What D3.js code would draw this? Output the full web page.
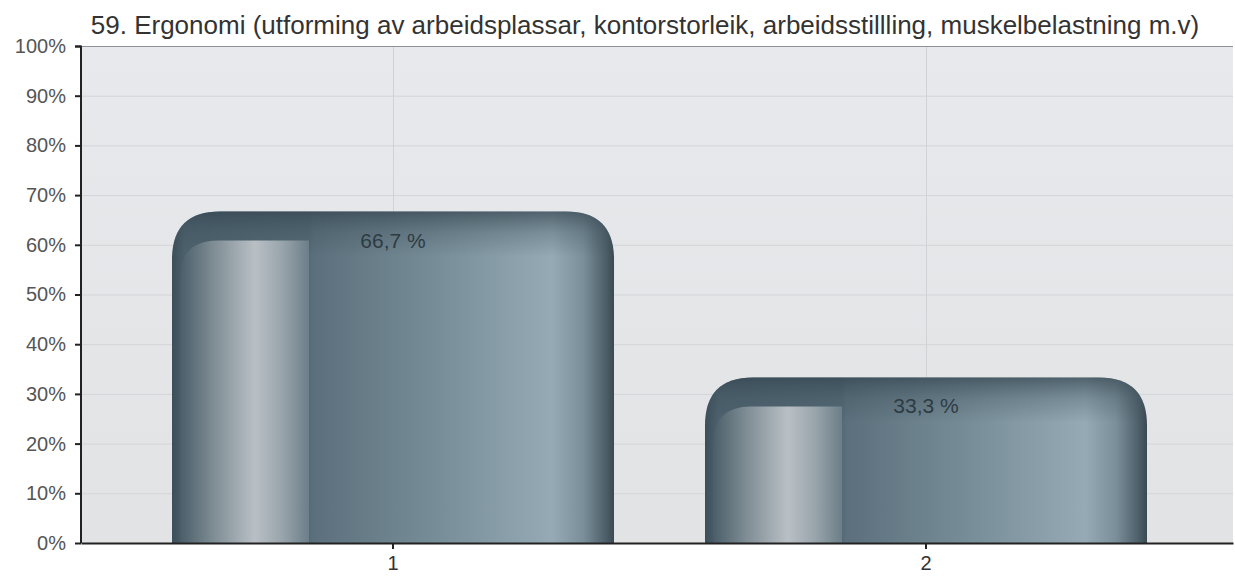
<!DOCTYPE html>
<html><head><meta charset="utf-8">
<script src="https://cdn.jsdelivr.net/npm/d3@7/dist/d3.min.js"></script>
<style>body{margin:0;background:#fff}svg{display:block}text{font-family:"Liberation Sans",Arial,sans-serif}</style>
</head><body>
<svg id="c" width="1235" height="578"></svg>
<script>
const title = "59. Ergonomi (utforming av arbeidsplassar, kontorstorleik, arbeidsstillling, muskelbelastning m.v)";
const categories = ["1", "2"];
const values = [66.7, 33.3];
const valueLabels = ["66,7 %", "33,3 %"];
const yTicks = [0, 10, 20, 30, 40, 50, 60, 70, 80, 90, 100];

const svg = d3.select("#c");
const m = {left: 81, right: 2, top: 46, bottom: 35};
const W = 1235 - m.left - m.right, H = 578 - m.top - m.bottom;
const defs = svg.append("defs");

const bodyG = defs.append("linearGradient").attr("id", "body").attr("x1", 0).attr("x2", 1).attr("y1", 0).attr("y2", 0);
[[0, "#3c4e58"], [0.03, "#4d626e"], [0.31, "#546a76"], [0.32, "#5b707c"], [0.6, "#778d98"], [0.86, "#95aab5"], [0.93, "#7b8f9a"], [0.98, "#4e606a"], [1, "#3a4a53"]]
  .forEach(([o, c]) => bodyG.append("stop").attr("offset", o).attr("stop-color", c));
const hiG = defs.append("linearGradient").attr("id", "hi").attr("x1", 0).attr("x2", 1).attr("y1", 0).attr("y2", 0);
[[0, "#4a5e69"], [0.25, "#7d8b93"], [0.58, "#b9c0c5"], [0.8, "#97a3aa"], [1, "#6c7e88"]]
  .forEach(([o, c]) => hiG.append("stop").attr("offset", o).attr("stop-color", c));
const topG = defs.append("linearGradient").attr("id", "topsh").attr("x1", 0).attr("x2", 0).attr("y1", 0).attr("y2", 1);
[[0, "#33444e", 0.7], [0.35, "#3c4e58", 0.3], [0.75, "#3c4e58", 0], [1, "#3c4e58", 0]]
  .forEach(([o, c, a]) => topG.append("stop").attr("offset", o).attr("stop-color", c).attr("stop-opacity", a));
const bgG = defs.append("linearGradient").attr("id", "bg").attr("x1", 0).attr("x2", 0).attr("y1", 0).attr("y2", 1);
[[0, "#e7e9ec"], [1, "#e2e3e5"]].forEach(([o, c]) => bgG.append("stop").attr("offset", o).attr("stop-color", c));

const g = svg.append("g").attr("transform", `translate(${m.left},${m.top})`);
const y = d3.scaleLinear().domain([0, 100]).range([H, 0]);
const x = d3.scaleBand().domain(categories).range([0, W]).paddingInner(0.2).paddingOuter(0.1807).align(0.513);
const bw = 442;

g.append("rect").attr("width", W).attr("height", H).attr("fill", "url(#bg)");
g.selectAll(".hg").data(yTicks).join("line").attr("x1", 0).attr("x2", W)
  .attr("y1", d => y(d) + 0.5).attr("y2", d => y(d) + 0.5).attr("stroke", "#d2d5d8");
g.selectAll(".vg").data(categories).join("line")
  .attr("x1", d => x(d) + x.bandwidth() / 2 + 0.5).attr("x2", d => x(d) + x.bandwidth() / 2 + 0.5)
  .attr("y1", 0).attr("y2", H).attr("stroke", "#d0d3d6");
g.append("line").attr("x1", 0).attr("x2", W).attr("y1", 0.5).attr("y2", 0.5).attr("stroke", "#8e9296");

function topRounded(x0, y0, w, h, r) {
  const p = d3.path();
  p.moveTo(x0, y0 + h);
  p.lineTo(x0, y0 + r);
  p.quadraticCurveTo(x0, y0, x0 + r, y0);
  p.lineTo(x0 + w - r, y0);
  p.quadraticCurveTo(x0 + w, y0, x0 + w, y0 + r);
  p.lineTo(x0 + w, y0 + h);
  p.closePath();
  return p.toString();
}
function leftRounded(x0, y0, w, h, r) {
  const p = d3.path();
  p.moveTo(x0, y0 + h);
  p.lineTo(x0, y0 + r);
  p.quadraticCurveTo(x0, y0, x0 + r, y0);
  p.lineTo(x0 + w, y0);
  p.lineTo(x0 + w, y0 + h);
  p.closePath();
  return p.toString();
}

const bars = g.selectAll(".bar").data(values).join("g")
  .attr("transform", (d, i) => `translate(${x(categories[i]) + x.bandwidth() / 2 - bw / 2},0)`);
bars.append("path").attr("d", d => topRounded(0, y(d), bw, H - y(d), 48)).attr("fill", "url(#body)");
bars.append("path").attr("d", d => topRounded(0, y(d), bw, 60, 48)).attr("fill", "url(#topsh)");
bars.append("path").attr("d", d => leftRounded(8, y(d) + 29, 129, H - y(d) - 29, 38)).attr("fill", "url(#hi)");
bars.append("text").attr("x", bw / 2).attr("y", d => y(d) + 36).attr("text-anchor", "middle")
  .attr("font-size", 21).attr("fill", "#2f3b43").text((d, i) => valueLabels[i]);

// axes
const ya = g.append("g").call(d3.axisLeft(y).tickValues(yTicks).tickSize(6).tickFormat(d => d + "%"));
ya.select(".domain").attr("stroke", "#222").attr("stroke-width", 2);
ya.selectAll(".tick line").attr("stroke", "#222").attr("stroke-width", 2);
ya.selectAll(".tick text").attr("font-size", 20).attr("fill", "#555").attr("x", -15).attr("font-family", "Liberation Sans, Arial");
ya.select(".domain").attr("d", `M-6,0.5H0V${H}`);

const xa = g.append("g").attr("transform", `translate(0,${H})`)
  .call(d3.axisBottom(x).tickSize(6).tickSizeOuter(0));
xa.select(".domain").attr("stroke", "#222").attr("stroke-width", 2);
xa.selectAll(".tick line").attr("stroke", "#222").attr("stroke-width", 2);
xa.selectAll(".tick text").attr("font-size", 20).attr("fill", "#333").attr("y", 13).attr("font-family", "Liberation Sans, Arial");

svg.append("text").attr("x", 645).attr("y", 34).attr("text-anchor", "middle")
  .attr("font-size", 26).attr("fill", "#333").text(title);
</script>
</body></html>
